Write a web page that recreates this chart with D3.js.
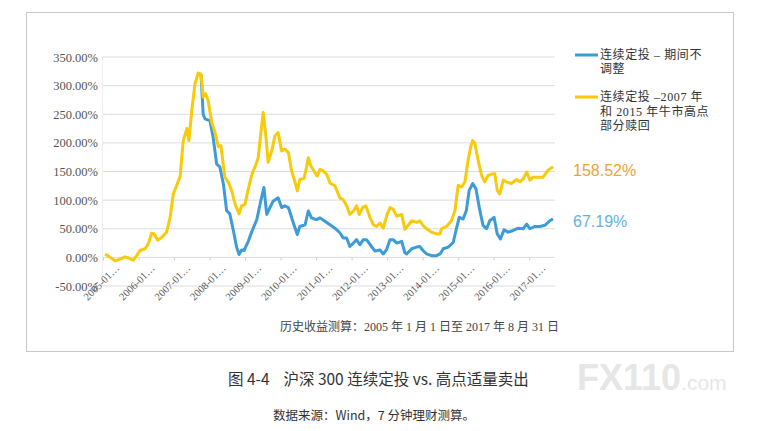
<!DOCTYPE html>
<html>
<head>
<meta charset="utf-8">
<script src="https://cdn.jsdelivr.net/npm/d3@7"></script>
<style>
  body { margin: 0; background: #fff; }
  svg { display: block; }
  text { white-space: pre; }
</style>
</head>
<body>
<script>
// time in decimal years, values in %
const yellowT = [2005.06, 2005.20, 2005.34, 2005.48, 2005.62, 2005.71, 2005.85, 2005.95, 2006.04, 2006.18,
  2006.27, 2006.37, 2006.44, 2006.54, 2006.65, 2006.79, 2006.89, 2006.98, 2007.07, 2007.17,
  2007.26, 2007.36, 2007.42, 2007.50, 2007.59, 2007.68, 2007.76, 2007.82, 2007.89, 2007.96,
  2008.06, 2008.15, 2008.25, 2008.32, 2008.43, 2008.53, 2008.62, 2008.72, 2008.83, 2008.90,
  2009.00, 2009.07, 2009.19, 2009.28, 2009.37, 2009.44, 2009.51, 2009.59, 2009.65, 2009.75,
  2009.84, 2009.93, 2010.03, 2010.12, 2010.22, 2010.31, 2010.40, 2010.47, 2010.54, 2010.66,
  2010.73, 2010.78, 2010.85, 2010.94, 2011.03, 2011.11, 2011.20, 2011.30, 2011.39, 2011.53,
  2011.67, 2011.76, 2011.86, 2011.95, 2012.05, 2012.14, 2012.21, 2012.31, 2012.40, 2012.52,
  2012.61, 2012.70, 2012.80, 2012.89, 2013.00, 2013.08, 2013.17, 2013.27, 2013.41, 2013.50,
  2013.59, 2013.69, 2013.83, 2013.92, 2014.01, 2014.11, 2014.25, 2014.39, 2014.49, 2014.53,
  2014.67, 2014.81, 2014.91, 2015.00, 2015.10, 2015.19, 2015.28, 2015.35, 2015.41, 2015.47,
  2015.56, 2015.66, 2015.75, 2015.84, 2015.97, 2016.03, 2016.10, 2016.17, 2016.27, 2016.36,
  2016.50, 2016.64, 2016.74, 2016.83, 2016.93, 2017.02, 2017.11, 2017.25, 2017.39, 2017.53,
  2017.67];
const yellowVals = [6, 0, -6, -3, 1, -1, -5, 3, 12, 15,
  23, 42, 41, 30, 35, 44, 70, 111, 125, 141,
  204, 225, 204, 257, 303, 322, 320, 280, 286, 274,
  236, 219, 193, 195, 140, 131, 117, 93, 76, 90,
  93, 114, 145, 158, 174, 215, 253, 209, 166, 186,
  212, 218, 186, 189, 183, 151, 133, 116, 136, 138,
  157, 174, 160, 151, 142, 154, 151, 145, 130, 125,
  104, 101, 90, 75, 81, 90, 75, 87, 90, 69,
  57, 54, 60, 51, 75, 87, 84, 72, 75, 49,
  56, 64, 61, 64, 56, 50, 44, 41, 41, 50,
  54, 64, 82, 126, 123, 132, 170, 193, 204, 199,
  170, 143, 132, 143, 146, 146, 117, 111, 135, 132,
  129, 136, 132, 137, 149, 135, 140, 140, 140, 152,
  158.52];

const blueT = [2007.76, 2007.82, 2007.87, 2008.01, 2008.10, 2008.20, 2008.29, 2008.39, 2008.48, 2008.57,
  2008.67, 2008.76, 2008.83, 2008.90, 2008.97, 2009.09, 2009.19, 2009.33, 2009.44, 2009.53,
  2009.61, 2009.70, 2009.79, 2009.93, 2010.03, 2010.12, 2010.22, 2010.36, 2010.47, 2010.54,
  2010.69, 2010.78, 2010.87, 2011.01, 2011.11, 2011.25, 2011.39, 2011.53, 2011.67, 2011.76,
  2011.86, 2011.95, 2012.05, 2012.14, 2012.23, 2012.33, 2012.42, 2012.56, 2012.66, 2012.80,
  2012.89, 2012.98, 2013.08, 2013.17, 2013.27, 2013.41, 2013.50, 2013.55, 2013.69, 2013.83,
  2013.92, 2014.01, 2014.11, 2014.25, 2014.39, 2014.49, 2014.58, 2014.72, 2014.86, 2014.95,
  2015.03, 2015.14, 2015.23, 2015.31, 2015.41, 2015.50, 2015.61, 2015.70, 2015.80, 2015.89,
  2016.01, 2016.10, 2016.19, 2016.29, 2016.41, 2016.55, 2016.69, 2016.83, 2016.93, 2017.02,
  2017.16, 2017.30, 2017.44, 2017.58, 2017.67];
const blueVals = [320, 250, 242, 239, 210, 163, 158, 128, 82, 76,
  47, 18, 5, 13, 12, 28, 45, 66, 98, 122,
  75, 87, 98, 104, 87, 90, 87, 60, 40, 54,
  57, 81, 69, 66, 69, 63, 57, 51, 43, 34,
  34, 19, 25, 31, 22, 31, 31, 19, 11, 13,
  6, 13, 31, 31, 25, 28, 8, 6, 15, 18,
  19, 12, 6, 3, 3, 6, 15, 18, 26, 50,
  70, 67, 82, 117, 129, 120, 82, 56, 50, 64,
  70, 41, 32, 48, 44, 47, 51, 50, 58, 50,
  54, 54, 56, 64, 67.19];

const yTicks = [-50, 0, 50, 100, 150, 200, 250, 300, 350];
const xTicks = [2005, 2006, 2007, 2008, 2009, 2010, 2011, 2012, 2013, 2014, 2015, 2016, 2017];
const legendBlue = ['连续定投 – 期间不', '调整'];
const legendYellow = ['连续定投 –2007 年', '和 2015 年牛市高点', '部分赎回'];
const endYellow = '158.52%';
const endBlue = '67.19%';
const noteText = '历史收益测算：2005 年 1 月 1 日至 2017 年 8 月 31 日';
const captionText = '图 4-4    沪深 300 连续定投 vs. 高点适量卖出';
const sourceText = '数据来源：Wind，7 分钟理财测算。';

const W = 761, H = 431;
const BLUE = '#3d9bd8', YELLOW = '#f8ca0a';
const serif = '"Liberation Serif", "DejaVu Serif", "Noto Sans CJK SC", serif';
const sans = '"Noto Sans CJK SC", "Liberation Sans", sans-serif';

const svg = d3.select('body').append('svg')
  .attr('width', W)
  .attr('height', H);

// frame around the chart
svg.append('rect')
  .attr('x', 26.5).attr('y', 12.5)
  .attr('width', 707).attr('height', 339)
  .attr('fill', 'none')
  .attr('stroke', '#c8c8c8');

const x = d3.scaleLinear().domain([2005, 2017.67]).range([103, 553]);
const y = d3.scaleLinear().domain([-50, 350]).range([286, 57]);

// gridlines
svg.append('g')
  .selectAll('line')
  .data(yTicks)
  .enter().append('line')
  .attr('x1', 103).attr('x2', 555)
  .attr('y1', d => y(d)).attr('y2', d => y(d))
  .attr('stroke', '#dcdcdc');

svg.append('line')
  .attr('x1', 102.5).attr('x2', 102.5)
  .attr('y1', y(350)).attr('y2', y(-50))
  .attr('stroke', '#eeeeee');

// y axis labels
const yAxis = svg.append('g')
  .attr('transform', 'translate(98,0)')
  .call(d3.axisLeft(y).tickValues(yTicks).tickSize(0).tickPadding(0)
    .tickFormat(d => d.toFixed(2) + '%'));
yAxis.select('.domain').remove();
yAxis.selectAll('text')
  .attr('font-family', serif)
  .attr('font-size', 12.5)
  .attr('fill', '#555');

// x axis sits on the 0% line
const xAxis = svg.append('g')
  .attr('transform', `translate(0,${y(0)})`)
  .call(d3.axisBottom(x).tickValues(xTicks).tickSize(3).tickFormat(d => d + '-01…'));
xAxis.select('.domain').remove();
xAxis.selectAll('line').attr('stroke', '#cfcfcf');
xAxis.selectAll('text')
  .attr('font-family', serif)
  .attr('font-size', 10.5)
  .attr('fill', '#555')
  .attr('text-anchor', 'end')
  .attr('transform', 'translate(12,7) rotate(-45)')
  .attr('x', 0).attr('y', 0).attr('dy', '0.6em');

// lines
const line = d3.line()
  .x(d => x(d[0]))
  .y(d => y(d[1]));

svg.append('path')
  .datum(d3.zip(blueT, blueVals))
  .attr('d', line)
  .attr('fill', 'none')
  .attr('stroke', BLUE)
  .attr('stroke-width', 3)
  .attr('stroke-linejoin', 'round');

svg.append('path')
  .datum(d3.zip(yellowT, yellowVals))
  .attr('d', line)
  .attr('fill', 'none')
  .attr('stroke', YELLOW)
  .attr('stroke-width', 3)
  .attr('stroke-linejoin', 'round');

// legend
const legend = svg.append('g').attr('font-family', serif).attr('font-size', 12).attr('fill', '#333');
legend.append('line').attr('x1', 575).attr('x2', 598).attr('y1', 55).attr('y2', 55)
  .attr('stroke', BLUE).attr('stroke-width', 3);
legend.selectAll('.lb').data(legendBlue).enter().append('text')
  .attr('x', 600).attr('y', (d, i) => 59 + i * 13.5)
  .attr('letter-spacing', 0.6)
  .text(d => d);
legend.append('line').attr('x1', 575).attr('x2', 598).attr('y1', 97).attr('y2', 97)
  .attr('stroke', YELLOW).attr('stroke-width', 3);
legend.selectAll('.ly').data(legendYellow).enter().append('text')
  .attr('x', 600).attr('y', (d, i) => 101 + i * 14.5)
  .attr('letter-spacing', 0.6)
  .text(d => d);

// end values
svg.append('text').attr('x', 573).attr('y', 176)
  .attr('font-family', '"Liberation Sans", Arial, sans-serif').attr('font-size', 16)
  .attr('fill', '#efa235').text(endYellow);
svg.append('text').attr('x', 573).attr('y', 227)
  .attr('font-family', '"Liberation Sans", Arial, sans-serif').attr('font-size', 16)
  .attr('fill', '#68b1de').text(endBlue);

// note inside the frame
svg.append('text').attr('x', 280).attr('y', 331)
  .attr('font-family', serif).attr('font-size', 12).attr('fill', '#444')
  .text(noteText);

// caption and source below
svg.append('text').attr('x', 228).attr('y', 385)
  .attr('font-family', sans).attr('font-size', 15.5).attr('fill', '#333')
  .text(captionText);
svg.append('text').attr('x', 273).attr('y', 420)
  .attr('font-family', sans).attr('font-size', 12.5).attr('fill', '#333')
  .text(sourceText);

// watermark
const wm = svg.append('text').attr('x', 577).attr('y', 390)
  .attr('font-family', '"Liberation Sans", Arial, sans-serif').attr('fill', '#e6e6e6');
wm.append('tspan').attr('font-size', 36).attr('font-weight', 'bold').text('FX110');
wm.append('tspan').attr('font-size', 21).text('.com');
</script>
</body>
</html>
